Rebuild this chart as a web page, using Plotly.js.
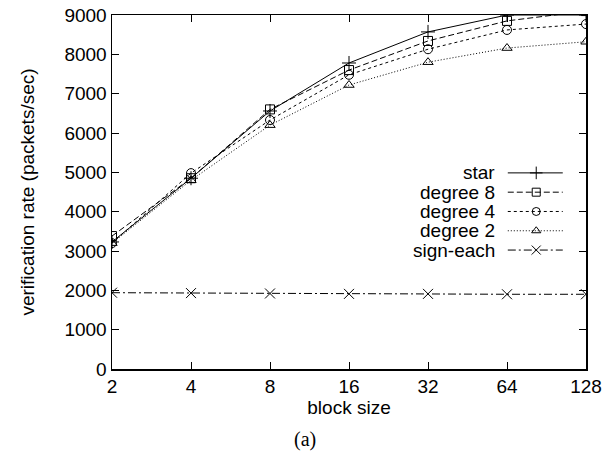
<!DOCTYPE html>
<html><head><meta charset="utf-8">
<script src="https://cdn.plot.ly/plotly-3.0.1.min.js"></script>
<style>html,body{margin:0;padding:0;background:#fff}#c{width:611px;height:455px}</style>
</head><body><div id="c"></div>
<script>
const blockSizes = [2, 4, 8, 16, 32, 64, 128];
const star = [3230, 4850, 6560, 7780, 8570, 9000, 9000];
const degree8 = [3380, 4850, 6600, 7600, 8340, 8850, 9100];
const degree4 = [3200, 4980, 6330, 7480, 8130, 8620, 8770];
const degree2 = [3200, 4800, 6200, 7220, 7800, 8160, 8320];
const signEach = [1940, 1930, 1920, 1910, 1910, 1900, 1900];
const seriesNames = ["star", "degree 8", "degree 4", "degree 2", "sign-each"];
const seriesData = [star, degree8, degree4, degree2, signEach];
const dashes = ["solid", "6px,3px", "3px,3px", "1px,2px", "8px,3px,2px,3px"];
const symbols = ["cross-thin-open", "square-open", "circle-open", "triangle-up-open", "x-thin-open"];
const sizes = [10, 9, 9, 9, 10];
const yTicks = [0,1000,2000,3000,4000,5000,6000,7000,8000,9000];

const font = "Liberation Sans, Arial, Helvetica, sans-serif";
const fs = 19;
const traces = [];
seriesNames.forEach((n, i) => {
  traces.push({
    x: blockSizes, y: seriesData[i], name: n, type: "scatter", mode: "lines+markers",
    line: {color: "#000", width: 1, dash: dashes[i]},
    marker: {symbol: symbols[i], size: sizes[i], color: "#000", line: {color: "#000", width: 1}},
    cliponaxis: true, showlegend: false
  });
});
// custom legend (text right-aligned, sample to its right) on hidden axes
const legendTop = 0.554, legendStep = 0.0545;
const annotations = [];
seriesNames.forEach((n, i) => {
  const yy = legendTop - i * legendStep;
  traces.push({
    x: [0.835, 0.951], y: [yy, yy], xaxis: "x2", yaxis: "y2", mode: "lines", type: "scatter",
    line: {color: "#000", width: 1, dash: dashes[i]}, showlegend: false, hoverinfo: "skip"
  });
  traces.push({
    x: [0.895], y: [yy], xaxis: "x2", yaxis: "y2", mode: "markers", type: "scatter",
    marker: {symbol: symbols[i], size: sizes[i] - 1, color: "#000", line: {color: "#000", width: 1}},
    showlegend: false, hoverinfo: "skip"
  });
  annotations.push({
    x: 0.812, y: yy, xref: "x2", yref: "y2", text: n, showarrow: false,
    xanchor: "right", yanchor: "middle", font: {family: font, size: fs, color: "#000"}
  });
});
annotations.push({
  x: 0.408, y: 0, xref: "paper", yref: "paper", xanchor: "center", yanchor: "top", yshift: -57,
  text: "(a)", showarrow: false, font: {family: "Liberation Serif, Times New Roman, serif", size: 20, color: "#000"}
});

const layout = {
  width: 611, height: 455,
  margin: {l: 112, r: 25, t: 15, b: 86},
  paper_bgcolor: "#fff", plot_bgcolor: "#fff",
  font: {family: font, size: fs, color: "#000"},
  showlegend: false,
  xaxis: {
    type: "log", range: [Math.log10(2), Math.log10(128)],
    tickvals: blockSizes, ticktext: blockSizes.map(String),
    showline: true, linecolor: "#000", linewidth: 1.5, mirror: "ticks",
    ticks: "inside", ticklen: 7, tickcolor: "#000", showgrid: false, zeroline: false,
    title: {text: "block size", font: {family: font, size: fs}, standoff: 0},
    tickfont: {family: font, size: fs}
  },
  yaxis: {
    range: [0, 9000], tickvals: yTicks,
    showline: true, linecolor: "#000", linewidth: 1.5, mirror: "ticks",
    ticks: "inside", ticklen: 7, tickcolor: "#000", showgrid: false, zeroline: false,
    title: {text: "verification rate (packets/sec)", font: {family: font, size: fs}, standoff: 25},
    tickfont: {family: font, size: fs}
  },
  xaxis2: {overlaying: "x", range: [0, 1], visible: false, fixedrange: true},
  yaxis2: {overlaying: "y", range: [0, 1], visible: false, fixedrange: true},
  annotations: annotations
};
Plotly.newPlot("c", traces, layout, {staticPlot: true, displayModeBar: false});
</script></body></html>
